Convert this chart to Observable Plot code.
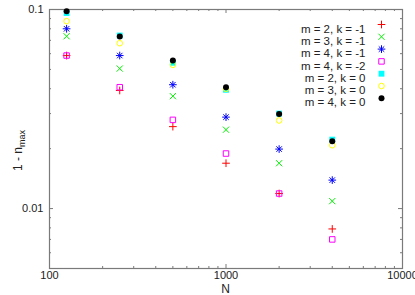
<!DOCTYPE html>
<html><head><meta charset="utf-8">
<script src="https://cdn.jsdelivr.net/npm/d3@7"></script>
<script src="https://cdn.jsdelivr.net/npm/@observablehq/plot@0.6"></script>
<style>
body{margin:0;background:#fff;}
#chart{position:relative;width:415px;height:295px;overflow:hidden;}
</style>
</head><body><div id="chart"></div>
<script>
const N = [125, 250, 500, 1000, 2000, 4000];
const m2_km1 = [0.0587, 0.0392, 0.0258, 0.0169, 0.0119, 0.0079];
const m3_km1 = [0.0734, 0.0505, 0.0367, 0.0249, 0.0169, 0.0109];
const m4_km1 = [0.0800, 0.0587, 0.0419, 0.0288, 0.0199, 0.0139];
const m4_km2 = [0.0587, 0.0407, 0.0279, 0.0189, 0.0119, 0.0070];
const m2_k0  = [0.0960, 0.0740, 0.0540, 0.0395, 0.0300, 0.0222];
const m3_k0  = [0.0874, 0.0677, 0.0527, 0.0400, 0.0277, 0.0208];
const m4_k0  = [0.0980, 0.0732, 0.0554, 0.0407, 0.0299, 0.0218];
const seriesLabels = ["m = 2, k = -1", "m = 3, k = -1", "m = 4, k = -1", "m = 4, k = -2", "m = 2, k = 0", "m = 3, k = 0", "m = 4, k = 0"];
const seriesValues = [m2_km1, m3_km1, m4_km1, m4_km2, m2_k0, m3_k0, m4_k0];
const xMajor = [100, 1000, 10000];
const xMinor = [200,300,400,500,600,700,800,900,2000,3000,4000,5000,6000,7000,8000,9000];
const yMajor = [0.01, 0.1];
const yMinor = [0.005,0.006,0.007,0.008,0.009,0.02,0.03,0.04,0.05,0.06,0.07,0.08,0.09];
const xTickLabels = ["100", "1000", "10000"];
const yTickLabels = ["0.01", "0.1"];

const styles = [
  {symbols: ["plus"], stroke: "#ff0000", fill: "none", r: 2.6},
  {symbols: ["times"], stroke: "#00f000", fill: "none", r: 2.9},
  {symbols: ["plus", "times"], stroke: "#0000ff", fill: "none", r: 2.6},
  {symbols: ["square"], stroke: "#ff00ff", fill: "none", r: 3.1},
  {symbols: ["square"], stroke: "none", fill: "#00ffff", r: 3.3},
  {symbols: ["circle"], stroke: "#ffff00", fill: "none", r: 2.8},
  {symbols: ["circle"], stroke: "none", fill: "#000000", r: 3.0}
];

const W = 415, H = 295, mL = 49, mR = 13, mT = 9, mB = 27;
const pW = W - mL - mR, pH = H - mT - mB;
const axisColor = "#7a7a7a";
const font = "Liberation Sans, Arial, Helvetica, sans-serif";
const xLab = new Map(xMajor.map((v, i) => [v, xTickLabels[i]]));
const yLab = new Map(yMajor.map((v, i) => [v, yTickLabels[i]]));

const marks = [];
// ticks, inward on all four sides
marks.push(Plot.ruleX(xMajor, {x: d => d, insetTop: pH - 4, stroke: axisColor}));
marks.push(Plot.ruleX(xMajor, {x: d => d, insetBottom: pH - 4, stroke: axisColor}));
marks.push(Plot.ruleX(xMinor, {x: d => d, insetTop: pH - 2, stroke: axisColor}));
marks.push(Plot.ruleX(xMinor, {x: d => d, insetBottom: pH - 2, stroke: axisColor}));
marks.push(Plot.ruleY(yMajor, {y: d => d, insetRight: pW - 4, stroke: axisColor}));
marks.push(Plot.ruleY(yMajor, {y: d => d, insetLeft: pW - 4, stroke: axisColor}));
marks.push(Plot.ruleY(yMinor, {y: d => d, insetRight: pW - 2, stroke: axisColor}));
marks.push(Plot.ruleY(yMinor, {y: d => d, insetLeft: pW - 2, stroke: axisColor}));
marks.push(Plot.frame({stroke: axisColor, strokeWidth: 1.2}));
// tick labels
marks.push(Plot.axisX({ticks: xMajor, anchor: "bottom", label: null, tickSize: 0, tickPadding: 3, tickFormat: d => xLab.get(d), fontSize: 11, fill: "#222"}));
marks.push(Plot.axisY({ticks: yMajor, anchor: "left", label: null, tickSize: 0, tickPadding: 6, tickFormat: d => yLab.get(d), fontSize: 11, fill: "#222"}));
// data
seriesValues.forEach((vals, s) => {
  const st = styles[s];
  const data = N.map((n, i) => ({N: n, v: vals[i]}));
  st.symbols.forEach(sym => {
    marks.push(Plot.dot(data, {x: "N", y: "v", symbol: () => sym, r: st.r, stroke: st.stroke, fill: st.fill, strokeWidth: 1}));
  });
});
// legend
seriesLabels.forEach((lab, s) => {
  const st = styles[s];
  const dy = 15 + s * 12.3;
  marks.push(Plot.text([lab], {text: d => d, frameAnchor: "top-right", dx: -37, dy: dy, textAnchor: "end", fontSize: 11.5, fill: "#222"}));
  st.symbols.forEach(sym => {
    marks.push(Plot.dot([lab], {frameAnchor: "top-right", dx: -21, dy: dy, symbol: () => sym, r: st.r, stroke: st.stroke, fill: st.fill, strokeWidth: 1}));
  });
});

const chart = Plot.plot({
  width: W, height: H,
  marginLeft: mL, marginRight: mR, marginTop: mT, marginBottom: mB,
  style: {fontFamily: font, background: "#fff", overflow: "visible"},
  x: {type: "log", domain: [100, 10000], label: null},
  y: {type: "log", domain: [0.005, 0.1], label: null},
  symbol: {type: "identity"},
  marks
});
document.getElementById("chart").appendChild(chart);

// axis titles
const svg = d3.select(chart);
svg.append("text")
  .attr("x", mL + pW / 2).attr("y", 293)
  .attr("text-anchor", "middle")
  .attr("font-size", 12).attr("fill", "#222").attr("font-family", font)
  .text("N");
const yl = svg.append("text")
  .attr("transform", `translate(22,${mT + pH / 2 + 12}) rotate(-90)`)
  .attr("text-anchor", "middle")
  .attr("font-size", 12).attr("fill", "#222").attr("font-family", font);
yl.append("tspan").text("1 - n");
yl.append("tspan").attr("font-size", 9).attr("dy", 3).text("max");
</script>
</body></html>
